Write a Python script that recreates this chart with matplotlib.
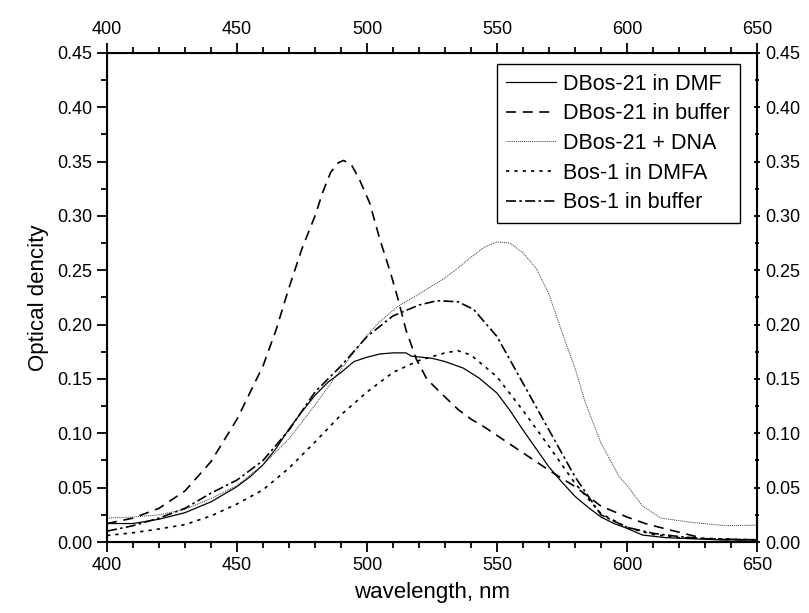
import matplotlib.pyplot as plt
from matplotlib.ticker import MultipleLocator, FormatStrFormatter

plt.rcParams['font.family'] = ['Liberation Sans', 'DejaVu Sans']

# DBos-21 in DMF
wl_dmf = [400, 410, 420, 430, 440, 450, 455, 460, 465, 470, 475, 480, 485, 490, 495, 500,
          505, 510, 515, 517, 525, 530, 537, 543, 550, 555, 560, 565, 570, 575, 580, 585,
          590, 595, 600, 606, 615, 625, 635, 650]
od_dmf = [0.017, 0.017, 0.021, 0.027, 0.037, 0.051, 0.060, 0.071, 0.086, 0.104, 0.120, 0.135,
          0.147, 0.156, 0.166, 0.170, 0.173, 0.174, 0.174, 0.171, 0.169, 0.166, 0.160, 0.151,
          0.137, 0.121, 0.103, 0.086, 0.069, 0.055, 0.042, 0.032, 0.023, 0.017, 0.0126, 0.0064,
          0.004, 0.003, 0.002, 0.002]

# DBos-21 in buffer
wl_buf = [400, 410, 420, 430, 440, 450, 460, 465, 470, 475, 480, 483, 486, 489, 491, 494, 497,
          501, 505, 509, 512, 515, 519, 523, 528, 535, 540, 545, 550, 560, 570, 580, 590,
          600, 607, 615, 620, 625, 630, 640, 650]
od_buf = [0.017, 0.022, 0.031, 0.047, 0.074, 0.113, 0.162, 0.195, 0.234, 0.270, 0.300, 0.322,
          0.340, 0.349, 0.351, 0.347, 0.334, 0.312, 0.278, 0.248, 0.223, 0.195, 0.168, 0.150,
          0.138, 0.122, 0.113, 0.106, 0.098, 0.082, 0.066, 0.051, 0.033, 0.023, 0.017, 0.012,
          0.009, 0.006, 0.003, 0.002, 0.002]

# DBos-21 + DNA
wl_dna = [400, 410, 420, 430, 440, 450, 460, 470, 480, 490, 500, 505, 512, 520, 530, 535,
          540, 545, 550, 555, 560, 565, 570, 575, 580, 584, 590, 597, 600, 606, 613, 625,
          638, 650]
od_dna = [0.022, 0.023, 0.025, 0.030, 0.040, 0.052, 0.071, 0.095, 0.126, 0.159, 0.190, 0.203,
          0.217, 0.228, 0.243, 0.252, 0.262, 0.271, 0.276, 0.275, 0.266, 0.252, 0.228, 0.193,
          0.160, 0.128, 0.091, 0.060, 0.052, 0.033, 0.022, 0.018, 0.015, 0.0155]

# Bos-1 in DMFA
wl_b1d = [400, 410, 420, 430, 440, 450, 460, 470, 480, 490, 500, 510, 520, 530, 535, 540,
          543, 550, 560, 570, 580, 590, 600, 610, 620, 635, 650]
od_b1d = [0.006, 0.0085, 0.012, 0.016, 0.024, 0.035, 0.048, 0.068, 0.092, 0.117, 0.138, 0.156,
          0.167, 0.174, 0.176, 0.172, 0.166, 0.152, 0.121, 0.088, 0.054, 0.026, 0.0135, 0.007,
          0.004, 0.003, 0.002]

# Bos-1 in buffer
wl_b1b = [400, 410, 420, 430, 440, 450, 460, 470, 480, 490, 500, 510, 520, 527, 535, 541,
          550, 560, 570, 580, 590, 600, 610, 620, 630, 650]
od_b1b = [0.010, 0.015, 0.022, 0.031, 0.045, 0.057, 0.075, 0.103, 0.138, 0.162, 0.189, 0.208,
          0.218, 0.222, 0.221, 0.214, 0.189, 0.146, 0.103, 0.060, 0.025, 0.0135, 0.008, 0.005,
          0.003, 0.002]

fig = plt.figure(figsize=(8.09, 6.13), dpi=100)
ax = fig.add_axes([0.1323, 0.1158, 0.8034, 0.798])

ax.plot(wl_dmf, od_dmf, color='black', lw=0.9, label='DBos-21 in DMF')
ax.plot(wl_buf, od_buf, color='black', lw=1.2, linestyle=(0, (6, 4)), label='DBos-21 in buffer')
ax.plot(wl_dna, od_dna, color='#333333', lw=0.7, linestyle=(0, (1, 1)), label='DBos-21 + DNA')
ax.plot(wl_b1d, od_b1d, color='black', lw=1.2, linestyle=(0, (2, 3)), label='Bos-1 in DMFA')
ax.plot(wl_b1b, od_b1b, color='black', lw=1.2, linestyle=(0, (6, 2, 1.5, 2)), label='Bos-1 in buffer')

ax.set_xlim(400, 650)
ax.set_ylim(0, 0.45)
ax.xaxis.set_major_locator(MultipleLocator(50))
ax.xaxis.set_minor_locator(MultipleLocator(10))
ax.yaxis.set_major_locator(MultipleLocator(0.05))
ax.yaxis.set_minor_locator(MultipleLocator(0.025))
ax.yaxis.set_major_formatter(FormatStrFormatter('%.2f'))
ax.tick_params(which='both', direction='out', top=True, right=False,
               labeltop=True, labelsize=13, width=1.3)
ax.tick_params(which='major', length=7)
ax.tick_params(which='minor', length=4.5)
for s in ax.spines.values():
    s.set_linewidth(1.5)

# right axis has short in-out ticks
ax2 = ax.twinx()
ax2.set_ylim(0, 0.45)
ax2.yaxis.set_major_locator(MultipleLocator(0.05))
ax2.yaxis.set_minor_locator(MultipleLocator(0.025))
ax2.yaxis.set_major_formatter(FormatStrFormatter('%.2f'))
ax2.tick_params(which='both', direction='inout', labelsize=13, width=1.3)
ax2.tick_params(which='major', length=4, pad=4)
ax2.tick_params(which='minor', length=3)

ax.set_xlabel('wavelength, nm', fontsize=16, labelpad=6)
ax.set_ylabel('Optical dencity', fontsize=16, labelpad=6)

leg = ax.legend(loc='upper right', bbox_to_anchor=(0.9738, 0.977), borderaxespad=0,
                fontsize=15.5, fancybox=False, framealpha=1, edgecolor='black',
                handlelength=2.3, labelspacing=0.4, borderpad=0.45, handletextpad=0.35)
leg.get_frame().set_linewidth(1.0)

plt.savefig('out.png', dpi=100)
plt.close()
